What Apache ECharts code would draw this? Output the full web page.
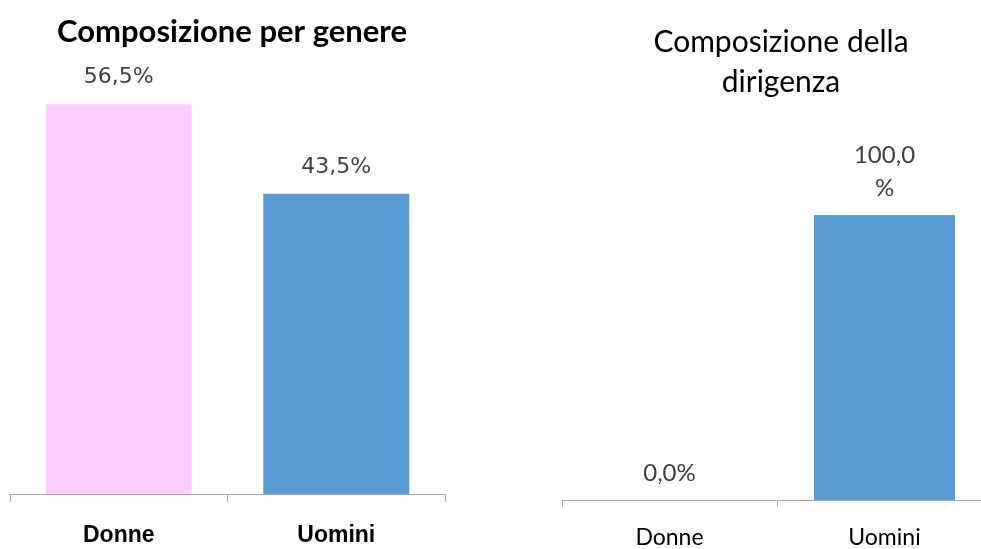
<!DOCTYPE html>
<html>
<head>
<meta charset="utf-8">
<script src="https://cdn.jsdelivr.net/npm/echarts@6/dist/echarts.min.js"></script>
<style>html,body{margin:0;padding:0;background:#fff}#c{width:981px;height:549px}</style>
</head>
<body>
<div id="c"></div>
<script>
var leftTitle = 'Composizione per genere';
var rightTitle = 'Composizione della\ndirigenza';
var categories = ['Donne', 'Uomini'];
var genereValues = [56.5, 43.5];
var dirigenzaValues = [0.0, 100.0];
var dirigenzaLabels = ['0,0%', '100,0\n%'];
var genereColors = ['#FFCCFF', '#5B9BD5'];
var dirigenzaColors = ['#5B9BD5', '#5B9BD5'];

function fmt(v) { return v.toFixed(1).replace('.', ',') + '%'; }

var chart = echarts.init(document.getElementById('c'), null, {renderer: 'canvas'});
var axisLineStyle = {color: '#A6A6A6', width: 1};
chart.setOption({
  animation: false,
  backgroundColor: '#ffffff',
  title: [
    {text: leftTitle, left: 227, top: 11, textAlign: 'center',
     textStyle: {fontFamily: 'Lato', fontWeight: 'bold', fontSize: 31, lineHeight: 32, color: '#000000'}},
    {text: rightTitle, left: 776, top: 17, textAlign: 'center',
     textStyle: {fontFamily: 'Lato', fontWeight: 'normal', fontSize: 30, lineHeight: 40, color: '#000000'}}
  ],
  grid: [
    {left: 10, width: 435, top: 80, bottom: 55, containLabel: false, outerBoundsMode: 'none'},
    {left: 562, width: 430, top: 215, bottom: 49, containLabel: false, outerBoundsMode: 'none'}
  ],
  xAxis: [
    {type: 'category', gridIndex: 0, data: categories,
     axisLine: {show: true, lineStyle: axisLineStyle},
     axisTick: {show: true, length: 8, lineStyle: axisLineStyle},
     axisLabel: {margin: 30, fontFamily: 'Liberation Sans', fontWeight: 'bold', fontSize: 23, color: '#000000'}},
    {type: 'category', gridIndex: 1, data: categories,
     axisLine: {show: true, lineStyle: axisLineStyle},
     axisTick: {show: true, length: 7, lineStyle: axisLineStyle},
     axisLabel: {margin: 26, fontFamily: 'Lato', fontSize: 23, color: '#000000'}}
  ],
  yAxis: [
    {type: 'value', gridIndex: 0, min: 0, max: 60, show: false, splitLine: {show: false}},
    {type: 'value', gridIndex: 1, min: 0, max: 100, show: false, splitLine: {show: false}}
  ],
  series: [
    {type: 'bar', xAxisIndex: 0, yAxisIndex: 0, barWidth: 146,
     data: genereValues.map(function (v, i) { return {value: v, itemStyle: {color: genereColors[i]}}; }),
     label: {show: true, position: 'top', distance: 14,
       formatter: function (p) { return fmt(p.value); },
       fontFamily: 'DejaVu Sans', fontSize: 22, lineHeight: 26, color: '#404040'}},
    {type: 'bar', xAxisIndex: 1, yAxisIndex: 1, barWidth: 141,
     data: dirigenzaValues.map(function (v, i) { return {value: v, itemStyle: {color: dirigenzaColors[i]}}; }),
     label: {show: true, position: 'top', distance: 10,
       formatter: function (p) { return dirigenzaLabels[p.dataIndex]; },
       fontFamily: 'Lato', fontSize: 24, lineHeight: 33, color: '#404040'}}
  ]
});
</script>
</body>
</html>
